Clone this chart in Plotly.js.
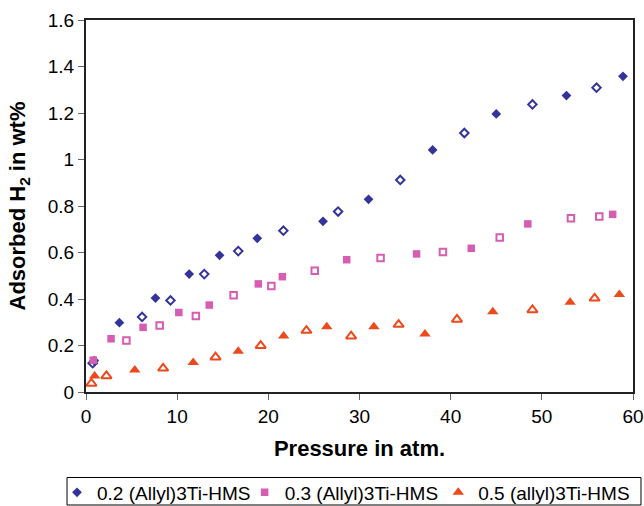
<!DOCTYPE html>
<html>
<head>
<meta charset="utf-8">
<script src="https://cdn.plot.ly/plotly-3.0.1.min.js"></script>
<style>html,body{margin:0;padding:0;background:#fff;}#chart{width:644px;height:506px;}</style>
</head>
<body>
<div id="chart"></div>
<script>
// 0.2 (Allyl)3Ti-HMS
const a02FilledX = [0.9, 3.66, 7.62, 11.32, 14.65, 18.79, 26.0, 30.99, 38.02, 45.0, 52.7, 58.9];
const a02FilledY = [0.135, 0.298, 0.404, 0.507, 0.588, 0.661, 0.734, 0.829, 1.041, 1.196, 1.275, 1.358];
const a02OpenX = [0.73, 6.15, 9.27, 12.97, 16.7, 21.65, 27.65, 34.47, 41.5, 48.97, 56.0];
const a02OpenY = [0.124, 0.323, 0.394, 0.507, 0.606, 0.694, 0.776, 0.912, 1.114, 1.237, 1.309];
// 0.3 (Allyl)3Ti-HMS
const a03FilledX = [0.8, 2.75, 6.26, 10.18, 13.52, 18.9, 21.54, 28.6, 36.26, 42.26, 48.46, 57.77];
const a03FilledY = [0.137, 0.229, 0.278, 0.342, 0.374, 0.465, 0.496, 0.569, 0.594, 0.618, 0.723, 0.764];
const a03OpenX = [4.43, 8.08, 12.05, 16.19, 20.33, 25.09, 32.31, 39.15, 45.38, 53.19, 56.3];
const a03OpenY = [0.222, 0.286, 0.327, 0.416, 0.456, 0.522, 0.576, 0.602, 0.665, 0.747, 0.755];
// 0.5 (allyl)3Ti-HMS
const a05FilledX = [0.95, 5.35, 11.76, 16.7, 21.68, 26.41, 31.58, 37.18, 44.62, 53.1, 58.5];
const a05FilledY = [0.069, 0.095, 0.127, 0.175, 0.241, 0.281, 0.281, 0.249, 0.345, 0.386, 0.419];
const a05OpenX = [0.59, 2.24, 8.46, 14.21, 19.16, 24.18, 29.08, 34.29, 40.69, 48.97, 55.79];
const a05OpenY = [0.037, 0.069, 0.102, 0.15, 0.199, 0.264, 0.240, 0.290, 0.312, 0.353, 0.403];

const seriesNames = ['0.2 (Allyl)3Ti-HMS', '0.3 (Allyl)3Ti-HMS', '0.5 (allyl)3Ti-HMS'];
const xTicks = [0, 10, 20, 30, 40, 50, 60];
const yTicks = [0, 0.2, 0.4, 0.6, 0.8, 1, 1.2, 1.4, 1.6];
const yTickText = ['0', '0.2', '0.4', '0.6', '0.8', '1', '1.2', '1.4', '1.6'];

const colors = ['#333399', '#d65db1', '#ec4a1c'];
const sym = ['diamond', 'square', 'triangle-up'];
const sizes = [7.5, 7.5, 10];
const legendIds = ['legend', 'legend2', 'legend3'];

function filled(x, y, i) {
  return {x: x, y: y, type: 'scatter', mode: 'markers', name: seriesNames[i], legendgroup: 'g' + i,
    legend: legendIds[i],
    marker: {symbol: sym[i], size: sizes[i], color: colors[i], line: {width: 0}}};
}
function open(x, y, i) {
  return {x: x, y: y, type: 'scatter', mode: 'markers', name: seriesNames[i], legendgroup: 'g' + i, showlegend: false,
    legend: legendIds[i],
    marker: {symbol: sym[i] + '-open', size: sizes[i] - 1, color: colors[i], line: {width: 2, color: colors[i]}}};
}

const data = [
  filled(a02FilledX, a02FilledY, 0), open(a02OpenX, a02OpenY, 0),
  filled(a03FilledX, a03FilledY, 1), open(a03OpenX, a03OpenY, 1),
  filled(a05FilledX, a05FilledY, 2), open(a05OpenX, a05OpenY, 2)
];

const font = 'Liberation Sans, Arial, sans-serif';
const legFont = {family: font, size: 19, color: '#000'};
function leg(x) {
  return {orientation: 'h', x: x, xanchor: 'left', y: -0.27, yanchor: 'middle',
    borderwidth: 0, bgcolor: 'rgba(0,0,0,0)', font: legFont};
}
const layout = {
  width: 644, height: 506,
  margin: {l: 86, r: 11, t: 20, b: 114, autoexpand: false},
  paper_bgcolor: '#fff', plot_bgcolor: '#fff',
  font: {family: font, size: 19, color: '#000'},
  showlegend: true,
  xaxis: {
    range: [0, 60], tickvals: xTicks, ticktext: xTicks.map(String),
    showgrid: false, zeroline: false, automargin: false,
    showline: true, linecolor: '#222', linewidth: 2, mirror: true,
    ticks: 'outside', ticklen: 6, tickcolor: '#666', tickwidth: 1,
    tickfont: {family: font, size: 19, color: '#000'},
    title: {text: '<b>Pressure in atm.</b>', font: {family: font, size: 22, color: '#000'}, standoff: 15}
  },
  yaxis: {
    range: [0, 1.6], tickvals: yTicks, ticktext: yTickText,
    showgrid: false, zeroline: false, automargin: false,
    showline: true, linecolor: '#222', linewidth: 2, mirror: true,
    ticks: 'outside', ticklen: 6, tickcolor: '#666', tickwidth: 1,
    tickfont: {family: font, size: 19, color: '#000'},
    title: {text: '<b>Adsorbed H<sub>2</sub> in wt%</b>', font: {family: font, size: 22, color: '#000'}, standoff: 16}
  },
  legend: leg(-0.053),
  legend2: leg(0.29),
  legend3: leg(0.644),
  shapes: [{type: 'rect', xref: 'paper', yref: 'paper', x0: -0.0347, x1: 1.0146, y0: -0.3038, y1: -0.2298,
    line: {color: '#000', width: 1}, fillcolor: 'rgba(0,0,0,0)'}]
};

Plotly.newPlot('chart', data, layout, {displayModeBar: false, staticPlot: true});
</script>
</body>
</html>
